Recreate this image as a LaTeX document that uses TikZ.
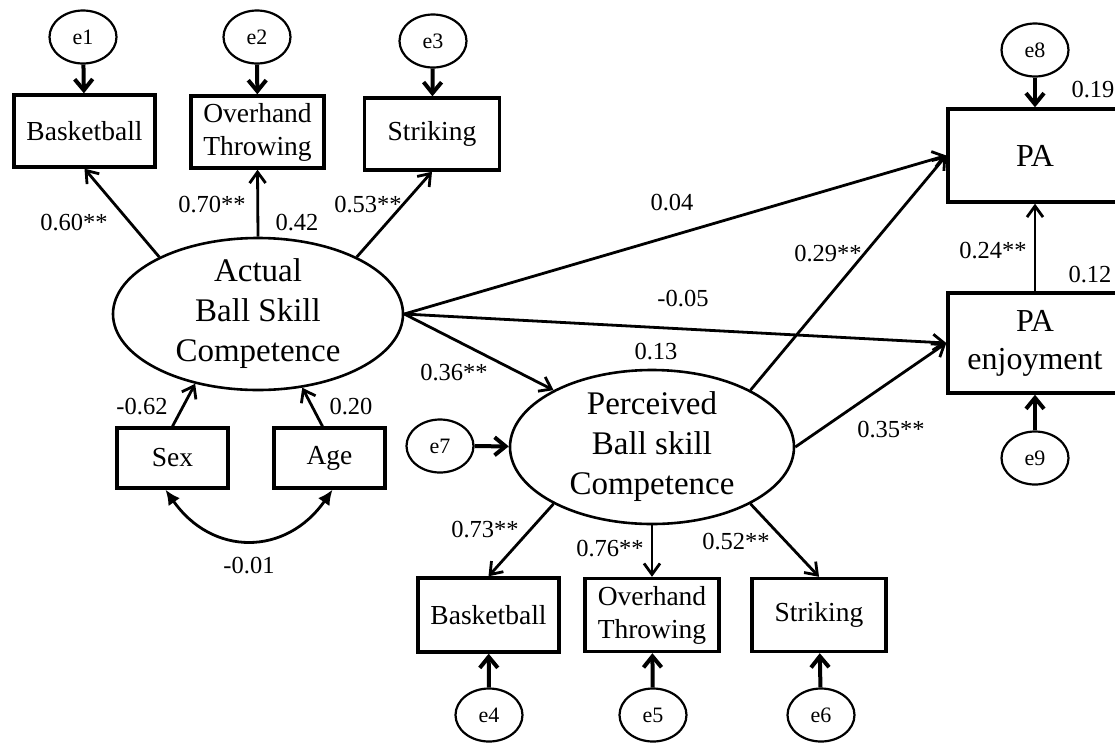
\documentclass[tikz,border=0pt]{standalone}
\usepackage{fontspec}
\setmainfont{Liberation Serif}
\usetikzlibrary{arrows.meta,shapes.geometric,calc}
\begin{document}
\begin{tikzpicture}[x=1pt,y=1pt,
  box/.style={draw, line width=3.4pt, rectangle, inner sep=0pt, align=center, font=\fontsize{27.5}{33}\selectfont},
  bigbox/.style={box, font=\fontsize{32}{38}\selectfont},
  lat/.style={draw, line width=2.6pt, ellipse, inner sep=-10pt, align=center, font=\fontsize{33}{40}\selectfont},
  err/.style={draw, line width=2.2pt, ellipse, inner sep=0pt, minimum width=67pt, minimum height=53pt, font=\fontsize{22}{26}\selectfont},
  conn/.style={line width=2.8pt, -{Straight Barb[length=11pt,width=16pt]}},
  errarr/.style={line width=4pt, -{Straight Barb[length=11pt,width=18pt]}},
  corr/.style={line width=2.8pt, {Latex[length=15pt,width=14pt]}-{Latex[length=15pt,width=14pt]}},
  lab/.style={font=\fontsize{24.5}{29}\selectfont, inner sep=0pt},
]
\useasboundingbox (0,0) rectangle (1115,-742);
\clip (0,0) rectangle (1115,-742);
\fill[white] (0,0) rectangle (1115,-742);

% nodes
\node[err] (e1) at (83,-37) {e1};
\node[err] (e2) at (257,-37) {e2};
\node[err] (e3) at (433,-41) {e3};
\node[box, minimum width=141pt, minimum height=72pt] (b1) at (84.5,-131) {Basketball};
\node[box, minimum width=133pt, minimum height=72pt] (o1) at (257.5,-132) {Overhand\\Throwing};
\node[box, minimum width=135pt, minimum height=72pt] (s1) at (432,-134) {Striking};
\node[lat, minimum width=290pt, minimum height=152pt] (act) at (258,-314) {Actual\\Ball Skill\\Competence};
\node[box, minimum width=111pt, minimum height=60pt] (sex) at (172.5,-458) {Sex};
\node[box, minimum width=111pt, minimum height=60pt] (age) at (329.5,-458) {Age};
\node[lat, minimum width=284pt, minimum height=154pt] (per) at (652,-447) {Perceived\\Ball skill\\Competence};
\node[err] (e7) at (440,-446) {e7};
\node[box, minimum width=141pt, minimum height=74pt] (b2) at (488.5,-615) {Basketball};
\node[box, minimum width=134pt, minimum height=73pt] (o2) at (652,-615) {Overhand\\Throwing};
\node[box, minimum width=134pt, minimum height=73pt] (s2) at (819,-615) {Striking};
\node[err] (e4) at (489,-715) {e4};
\node[err] (e5) at (653,-715) {e5};
\node[err] (e6) at (821,-715) {e6};
\node[bigbox, minimum width=174pt, minimum height=93pt] (pa) at (1035,-155.5) {PA};
\node[bigbox, minimum width=174pt, minimum height=100pt] (pae) at (1035,-343) {PA\\enjoyment};
\node[err] (e8) at (1035,-50) {e8};
\node[err] (e9) at (1035,-458) {e9};

% error arrows
\draw[errarr] (e1) -- (b1);
\draw[errarr] (e2) -- (o1);
\draw[errarr] (e3) -- (s1);
\draw[errarr] (e4) -- (b2);
\draw[errarr] (e5) -- (o2);
\draw[errarr] (e6) -- (s2);
\draw[errarr] (e7) -- (per);
\draw[errarr] (e8) -- (pa);
\draw[errarr] (e9) -- (pae);

% structural paths
\draw[conn] (act.150) -- (b1.south);
\draw[conn] (act.north) -- (o1.south);
\draw[conn] (act.30) -- (s1.south);
\draw[conn] (sex.north) -- (act.228);
\draw[conn] ([xshift=-7pt]age.north) -- (act.301);
\draw[conn] (act.east) -- (pa.west);
\draw[conn] (act.east) -- (pae.west);
\draw[conn] (act.east) -- (per.150);
\draw[conn] (per.30) -- (pa.west);
\draw[conn] (per.east) -- (pae.west);
\draw[conn] (pae.north) -- (pa.south);
\draw[conn] (per.210) -- (b2.north);
\draw[conn] (per.south) -- (o2.north);
\draw[conn] (per.330) -- (s2.north);
\draw[corr] ([xshift=-7pt]sex.south) to[out=-55,in=-125,looseness=1.25] ([xshift=3pt]age.south);

% labels
\node[lab] (l1) at (74,-223) {0.60**};
\node[lab] (l2) at (212,-205) {0.70**};
\node[lab] (l3) at (297,-223) {0.42};
\node[lab] (l4) at (368,-205) {0.53**};
\node[lab] (l5) at (142,-407) {-0.62};
\node[lab] (l6) at (351,-407) {0.20};
\node[lab] (l7) at (249,-566) {-0.01};
\node[lab] (l8) at (454,-373) {0.36**};
\node[lab] (l9) at (656,-352) {0.13};
\node[lab] (l10) at (672,-203) {0.04};
\node[lab] (l11) at (683,-299) {-0.05};
\node[lab] (l12) at (828,-254) {0.29**};
\node[lab] (l13) at (891,-430) {0.35**};
\node[lab] (l14) at (485,-530) {0.73**};
\node[lab] (l15) at (610,-549) {0.76**};
\node[lab] (l16) at (736,-542) {0.52**};
\node[lab] (l17) at (993,-251) {0.24**};
\node[lab] (l18) at (1093,-90) {0.19};
\node[lab] (l19) at (1090,-275) {0.12};
\end{tikzpicture}
\end{document}
